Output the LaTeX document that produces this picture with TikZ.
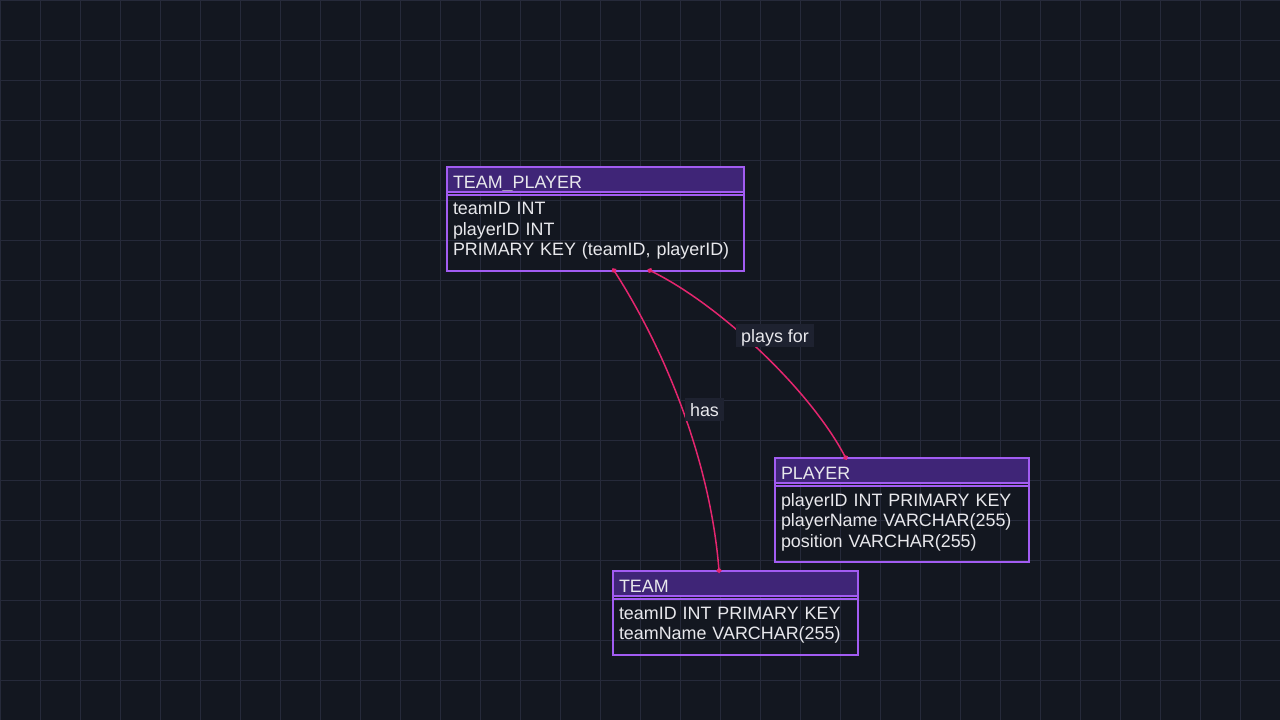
\documentclass[tikz,border=0pt]{standalone}
\usepackage{fontspec}
\setmainfont{Liberation Sans}
\usetikzlibrary{positioning,arrows.meta}
\definecolor{bgcol}{HTML}{131720}
\definecolor{gridcol}{HTML}{262A3A}
\definecolor{boxline}{HTML}{A25CF2}
\definecolor{headfill}{HTML}{3F2577}
\definecolor{txtcol}{HTML}{E8E8EC}
\definecolor{linkcol}{HTML}{E5266F}
\definecolor{lblfill}{HTML}{1E2230}
\tikzset{
  tablehead/.style={draw=boxline, fill=headfill, line width=2pt, outer sep=0pt, text=txtcol, anchor=north west, align=left, text width=#1, minimum height=25pt, inner xsep=6.5pt, inner ysep=0pt, text height=18.5pt, text depth=0pt, font=\fontsize{17.9}{20}\selectfont},
  tablebody/.style={draw=boxline, line width=2pt, outer sep=0pt, text=txtcol, align=left, text width=#1, inner xsep=6.5pt, inner ysep=0pt, font=\fontsize{17.9}{20.5}\selectfont},
  sepline/.style={draw=boxline, line width=1.5pt},
  link/.style={draw=linkcol, line width=1.5pt, {Circle[length=5pt]}-{Circle[length=5pt]}, shorten <=-2.5pt, shorten >=-2.5pt},
  linklabel/.style={fill=lblfill, text=txtcol, inner xsep=5pt, inner ysep=0pt, minimum height=23pt, text height=15pt, text depth=2pt, font=\fontsize{17.9}{20}\selectfont}
}
\begin{document}
\begin{tikzpicture}[x=1pt, y=-1pt]
\useasboundingbox (0,0) rectangle (1280,720);
\fill[bgcol] (0,0) rectangle (1280,720);
\draw[gridcol, line width=1pt] (0,0) grid[step=40pt] (1280,720);
\node[tablehead=284pt] (tp) at (446.5,166.5) {TEAM\_PLAYER};
\node[tablebody=284pt, minimum height=79pt, below=0pt of tp] (tpbody) {teamID INT\\playerID INT\\PRIMARY KEY (teamID, playerID)};
\node[tablehead=241pt] (player) at (774.5,457.5) {PLAYER};
\node[tablebody=241pt, minimum height=79pt, below=0pt of player] (playerbody) {playerID INT PRIMARY KEY\\playerName VARCHAR(255)\\position VARCHAR(255)};
\node[tablehead=232pt] (team) at (612.5,570.5) {TEAM};
\node[tablebody=232pt, minimum height=59pt, below=0pt of team] (teambody) {teamID INT PRIMARY KEY\\teamName VARCHAR(255)};
\draw[sepline] ([yshift=-3.5pt]tpbody.north west) -- ([yshift=-3.5pt]tpbody.north east);
\draw[sepline] ([yshift=-3.5pt]playerbody.north west) -- ([yshift=-3.5pt]playerbody.north east);
\draw[sepline] ([yshift=-3.5pt]teambody.north west) -- ([yshift=-3.5pt]teambody.north east);
\draw[link] ([xshift=19pt]tpbody.south) .. controls (665,350) and (710,460) .. ([xshift=-16pt]team.north);
\draw[link] ([xshift=55pt]tpbody.south) .. controls (720,305) and (810,390) .. ([xshift=-56pt]player.north);
\node[linklabel] (haslbl) at (704.5,409.5) {has};
\node[linklabel] (playslbl) at (775,335.5) {plays for};
\end{tikzpicture}
\end{document}
